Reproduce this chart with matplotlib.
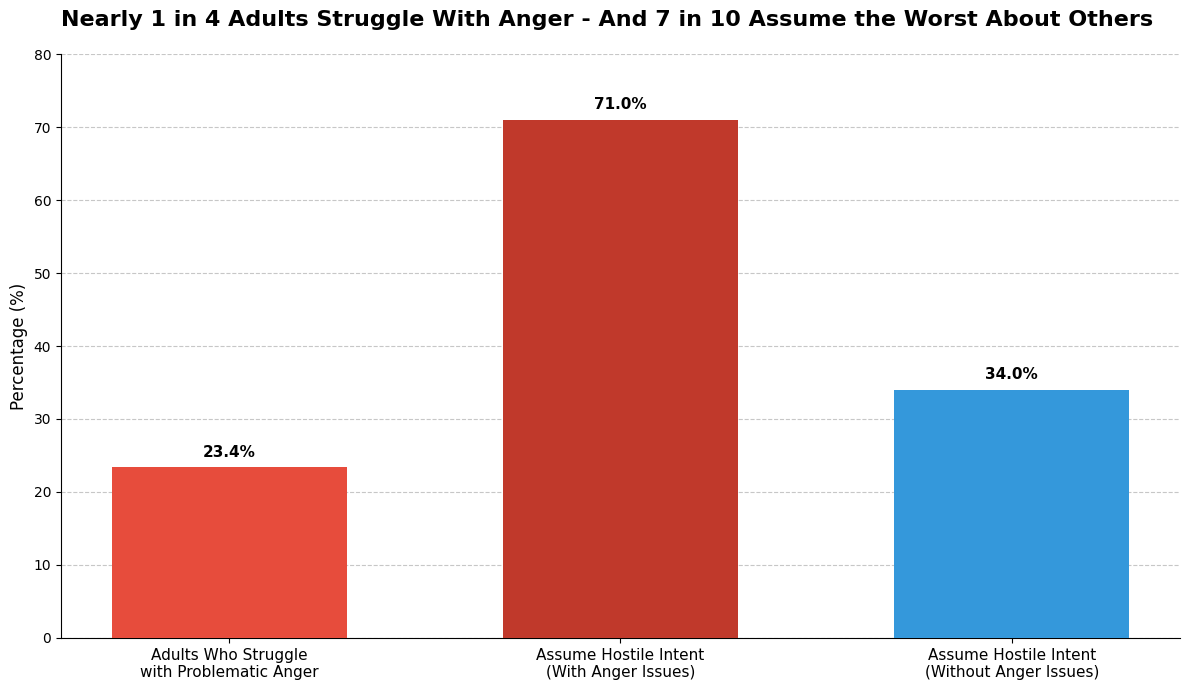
import matplotlib.pyplot as plt

# data
categories = ["Adults Who Struggle\nwith Problematic Anger",
              "Assume Hostile Intent\n(With Anger Issues)",
              "Assume Hostile Intent\n(Without Anger Issues)"]
values = [23.4, 71.0, 34.0]
colors = ["#e74c3c", "#c0392b", "#3498db"]

fig, ax = plt.subplots(figsize=(11.89, 6.9), dpi=100)
fig.subplots_adjust(left=0.0513, right=0.9924, top=0.9217, bottom=0.0754)

bars = ax.bar(range(len(categories)), values, width=0.6, color=colors, zorder=3)

# value labels on top of bars
for bar, v in zip(bars, values):
    ax.text(bar.get_x() + bar.get_width() / 2, v + 1, f"{v:.1f}%",
            ha="center", va="bottom", fontsize=11, fontweight="bold")

ax.set_xticks(range(len(categories)))
ax.set_xticklabels(categories, fontsize=11)
ax.set_ylim(0, 80)
ax.set_ylabel("Percentage (%)", fontsize=12)
ax.set_title("Nearly 1 in 4 Adults Struggle With Anger - And 7 in 10 Assume the Worst About Others",
             fontsize=16, fontweight="bold", pad=20, x=0.488)

ax.grid(axis="y", linestyle="--", alpha=0.7, zorder=0)
ax.spines["top"].set_visible(False)
ax.spines["right"].set_visible(False)

plt.savefig("out.png", dpi=100)
